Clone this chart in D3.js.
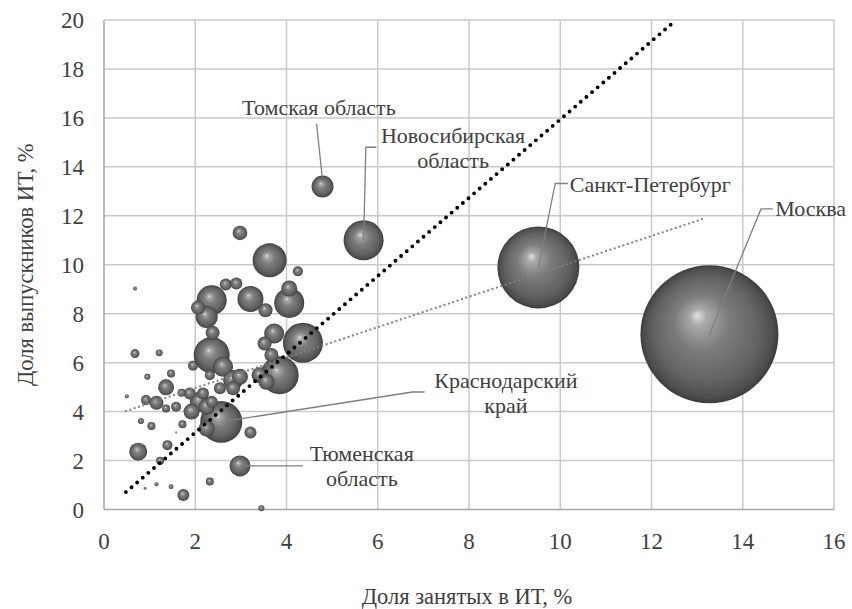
<!DOCTYPE html>
<html><head><meta charset="utf-8">
<script src="https://cdn.jsdelivr.net/npm/d3@7"></script>
<style>body{margin:0;background:#fff}svg{display:block}</style>
</head><body>
<svg id="c" width="852" height="609"></svg>
<script>
// ---- data ----
const employedShare = [13.27,9.52,5.69,4.79,2.57,2.98,
 2.98,3.63,4.25,0.68,2.36,2.67,2.90,2.06,2.25,2.38,3.21,3.54,4.06,4.06,4.36,3.73,3.52,3.67,3.85,3.41,3.56,2.36,1.95,2.32,2.61,2.83,2.98,2.83,2.54,1.36,1.47,0.95,0.50,0.92,1.15,1.36,1.58,1.70,1.88,1.92,2.10,2.25,2.17,2.36,2.25,3.21,0.81,1.04,1.72,1.58,1.39,0.75,1.23,2.32,0.90,1.15,1.47,1.74,3.45,0.68,1.21];
const graduatesShare = [7.16,9.89,11.0,13.2,3.58,1.78,
 11.3,10.18,9.73,9.03,8.55,9.19,9.23,8.25,7.87,7.22,8.60,8.14,9.03,8.44,6.81,7.19,6.78,6.31,5.49,5.49,5.22,6.31,5.87,5.49,5.83,5.29,5.42,4.95,4.95,4.99,5.56,5.42,4.63,4.47,4.36,4.13,4.20,4.77,4.74,4.00,4.40,4.20,4.74,4.40,3.31,3.15,3.62,3.41,3.48,3.15,2.63,2.36,1.99,1.14,0.86,1.03,0.93,0.59,0.05,6.37,6.40];
const bubbleSize = [476,168,40,12,44,11,
 5.3,28.9,2.5,0.4,22.5,3.6,3.6,4.9,12.1,4.9,16.9,4.9,6.4,22.5,40,10,4.9,4.9,36.1,6.4,6.4,32.4,2.5,2.5,10,10,6.4,4.9,3.6,6.4,1.6,0.9,0.4,2.5,4.9,1.6,2.5,1.6,3.6,6.4,10,6.4,3.6,3.6,6.4,3.6,0.9,1.6,1.6,0.1,2.5,8.1,1.6,1.6,0.2,0.4,0.6,3.6,0.9,2.0,1.2];
const regionNames = ["Москва","Санкт-Петербург","Новосибирская область","Томская область","Краснодарский край","Тюменская область"];
const xTicks = [0,2,4,6,8,10,12,14,16];
const yTicks = [0,2,4,6,8,10,12,14,16,18,20];
const trendX = [0.48,13.17], trendY = [4.02,11.9];      // linear trend (grey dotted)
const refX = [0.48,12.54], refY = [0.71,20];            // reference line (black dotted)

// label annotations (data units): lines, anchor, text pos, leader polyline
const labels = [
 {i:0, lines:["Москва"], anchor:"start", tx:14.71, ty:11.99, leader:[[14.66,12.28],[14.4,12.28]]},
 {i:1, lines:["Санкт-Петербург"], anchor:"start", tx:10.21, ty:12.98, leader:[[10.17,13.32],[9.89,13.32]]},
 {i:2, lines:["Новосибирская","область"], anchor:"middle", tx:7.65, ty:14.96, leader:[[5.97,14.8],[5.74,14.8]]},
 {i:3, lines:["Томская область"], anchor:"middle", tx:4.71, ty:16.12, leader:[[4.66,15.75]], edge:true},
 {i:4, lines:["Краснодарский","край"], anchor:"middle", tx:8.81, ty:4.96, leader:[[7.03,4.8],[6.76,4.8]]},
 {i:5, lines:["Тюменская","область"], anchor:"middle", tx:5.65, ty:1.98, leader:[[4.36,1.78]]}
];

// ---- chart ----
const svg = d3.select("#c");
const FONT = "'Liberation Serif', 'Noto Serif CJK SC', 'DejaVu Serif', serif";
const TXT = "#404040";
const L=104, R=834, T=20, B=509.5;
const x = d3.scaleLinear().domain([0,16]).range([L,R]);
const y = d3.scaleLinear().domain([0,20]).range([B,T]);
const rs = d3.scaleSqrt().domain([0,476]).range([0,69]);

const defs = svg.append("defs");
const g = defs.append("radialGradient").attr("id","sph").attr("cx","0.5").attr("cy","0.5").attr("r","0.5").attr("fx","0.41").attr("fy","0.36");
[[0,"#e2e2e2"],[0.12,"#a9a9a9"],[0.4,"#7c7c7c"],[0.75,"#636363"],[0.93,"#4e4e4e"],[1,"#3c3c3c"]].forEach(s=>g.append("stop").attr("offset",s[0]).attr("stop-color",s[1]));
defs.append("clipPath").attr("id","clip").append("rect").attr("x",L).attr("y",T).attr("width",R-L).attr("height",B-T);

// grid
svg.append("g").selectAll("line").data(yTicks.slice(1)).join("line")
 .attr("x1",L).attr("x2",R).attr("y1",d=>y(d)).attr("y2",d=>y(d)).attr("stroke","#c9c9c9").attr("stroke-width",1.5);
svg.append("g").selectAll("line").data(xTicks.slice(1)).join("line")
 .attr("y1",T).attr("y2",B).attr("x1",d=>x(d)).attr("x2",d=>x(d)).attr("stroke","#c9c9c9").attr("stroke-width",1.5);
svg.append("line").attr("x1",L).attr("x2",L).attr("y1",T).attr("y2",B).attr("stroke","#a6a6a6").attr("stroke-width",1.5);
svg.append("line").attr("x1",L).attr("x2",R).attr("y1",B).attr("y2",B).attr("stroke","#a6a6a6").attr("stroke-width",1.5);

function txt(sel){ return sel.attr("font-family",FONT).attr("fill",TXT); }

// tick labels
txt(svg.append("g").selectAll("text").data(yTicks).join("text"))
 .attr("x",L-20).attr("y",d=>y(d)).attr("dy","0.35em").attr("text-anchor","end").attr("font-size",23).text(d=>d);
txt(svg.append("g").selectAll("text").data(xTicks).join("text"))
 .attr("x",d=>x(d)).attr("y",B+31).attr("dy","0.35em").attr("text-anchor","middle").attr("font-size",23).text(d=>d);

// axis titles
txt(svg.append("text")).attr("x",(L+R)/2-2).attr("y",596).attr("dy","0.35em").attr("text-anchor","middle").attr("font-size",22.5).text("Доля занятых в ИТ, %");
txt(svg.append("text")).attr("transform",`translate(25,${(T+B)/2}) rotate(-90)`).attr("dy","0.35em").attr("text-anchor","middle").attr("font-size",22.5).text("Доля выпускников ИТ, %");

// bubbles
const pts = employedShare.map((v,i)=>({x:v,y:graduatesShare[i],s:bubbleSize[i]}));
const order = d3.range(pts.length).sort((a,b)=>pts[b].s-pts[a].s);
svg.append("g").selectAll("circle").data(order.map(i=>pts[i])).join("circle")
 .attr("cx",d=>x(d.x)).attr("cy",d=>y(d.y)).attr("r",d=>rs(d.s)).attr("fill","url(#sph)");

// trend lines
const line = d3.line().x(d=>x(d[0])).y(d=>y(d[1]));
svg.append("path").attr("d",line(trendX.map((v,i)=>[v,trendY[i]]))).attr("fill","none")
 .attr("stroke","#808080").attr("stroke-width",2.3).attr("stroke-dasharray","0 4.6").attr("stroke-linecap","round");
svg.append("path").attr("clip-path","url(#clip)").attr("d",line(refX.map((v,i)=>[v,refY[i]]))).attr("fill","none")
 .attr("stroke","#000").attr("stroke-width",3.9).attr("stroke-dasharray","0 7.4").attr("stroke-linecap","round");

// labels + leaders
labels.forEach(lb=>{
  const p = pts[lb.i];
  const path = lb.leader.map(q=>[x(q[0]),y(q[1])]);
  let end = [x(p.x),y(p.y)];
  if(lb.edge) end = [x(p.x)-0.5,y(p.y)-rs(p.s)];
  path.push(end);
  svg.append("path").attr("d",d3.line()(path)).attr("fill","none").attr("stroke","#7f7f7f").attr("stroke-width",1.3);
  const t = txt(svg.append("text")).attr("x",x(lb.tx)).attr("y",y(lb.ty)).attr("text-anchor",lb.anchor).attr("font-size",22);
  lb.lines.forEach((s,k)=>t.append("tspan").attr("x",x(lb.tx)).attr("dy",k?25:0).text(s));
});
</script>
</body></html>
